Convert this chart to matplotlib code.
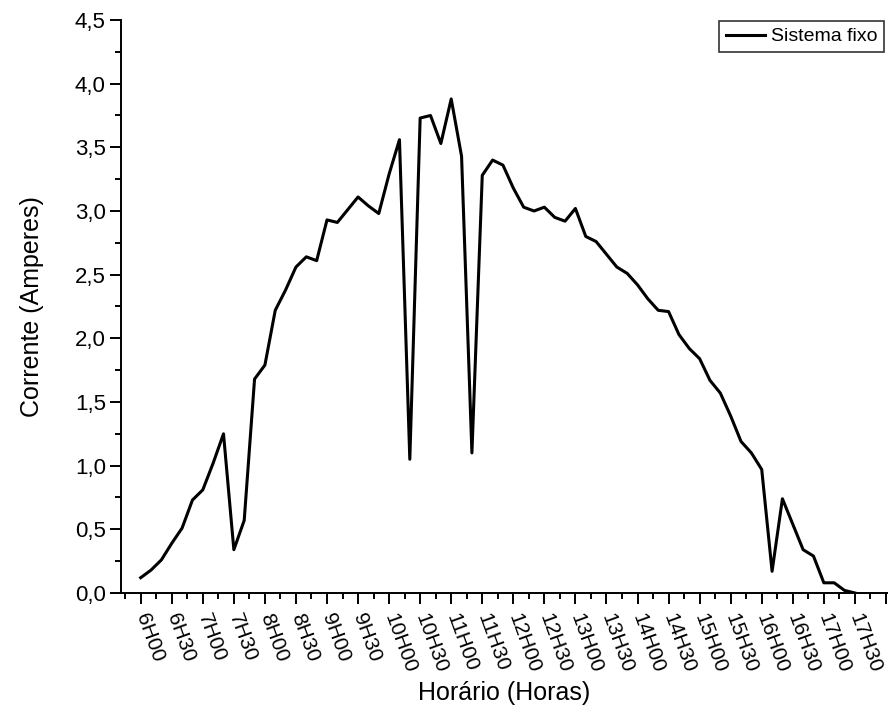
import numpy as np
import matplotlib
matplotlib.use("Agg")
import matplotlib.pyplot as plt
from matplotlib.ticker import MultipleLocator, FixedLocator

plt.rcParams['font.family'] = ['Liberation Sans', 'DejaVu Sans']

# leituras a cada 10 minutos, a partir das 6H00 (minutos)
minutos = np.arange(0, 700, 10)

# corrente medida no sistema fixo (A)
corrente = [0.12, 0.18, 0.26, 0.39, 0.51, 0.73, 0.81, 1.02, 1.25, 0.34,
            0.57, 1.68, 1.79, 2.22, 2.38, 2.56, 2.64, 2.61, 2.93, 2.91,
            3.01, 3.11, 3.04, 2.98, 3.29, 3.56, 1.05, 3.73, 3.75, 3.53,
            3.88, 3.43, 1.10, 3.28, 3.40, 3.36, 3.18, 3.03, 3.00, 3.03,
            2.95, 2.92, 3.02, 2.80, 2.76, 2.66, 2.56, 2.51, 2.42, 2.31,
            2.22, 2.21, 2.03, 1.92, 1.84, 1.67, 1.57, 1.39, 1.19, 1.10,
            0.97, 0.17, 0.74, 0.54, 0.34, 0.29, 0.08, 0.08, 0.02, 0.00]

rotulos_x = ['6H00', '6H30', '7H00', '7H30', '8H00', '8H30', '9H00', '9H30',
             '10H00', '10H30', '11H00', '11H30', '12H00', '12H30', '13H00',
             '13H30', '14H00', '14H30', '15H00', '15H30', '16H00', '16H30',
             '17H00', '17H30', '']

fig = plt.figure(figsize=(8.88, 7.22), dpi=100)
ax = fig.add_axes([0.1363, 0.1787, 0.8637, 0.7936])

ax.plot(minutos, corrente, color='black', lw=2.2, label='Sistema fixo')

ax.set_xlim(-19, 722)
ax.set_ylim(0, 4.5)

# eixo x: marcas principais a cada 30 min, secundarias a cada 15 min
ax.xaxis.set_major_locator(FixedLocator(np.arange(0, 30 * len(rotulos_x), 30)))
ax.xaxis.set_minor_locator(FixedLocator(np.arange(-15, 730, 30)))
ax.set_xticklabels(rotulos_x, rotation=-70, ha='left', va='center',
                   rotation_mode='anchor', fontsize=15)

ax.yaxis.set_minor_locator(MultipleLocator(0.25))
ax.set_yticks(np.arange(0, 4.51, 0.5))
ax.set_yticklabels([f'{v:.1f}'.replace('.', ',') for v in np.arange(0, 4.51, 0.5)],
                   fontsize=16)

ax.tick_params(which='major', direction='out', length=8, width=1.4, pad=3)
ax.tick_params(which='minor', direction='out', length=4, width=1.4)
ax.tick_params(axis='x', which='major', pad=7)

for lado in ['top', 'right']:
    ax.spines[lado].set_visible(False)
for lado in ['left', 'bottom']:
    ax.spines[lado].set_linewidth(1.4)

ax.set_xlabel('Horário (Horas)', fontsize=18, labelpad=4)
ax.set_ylabel('Corrente (Amperes)', fontsize=18, labelpad=22)

leg = ax.legend(loc='upper right', bbox_to_anchor=(1.0, 1.005), fontsize=14,
                frameon=True, fancybox=False, edgecolor='black',
                handlelength=2.0, borderpad=0.35, handletextpad=0.3,
                borderaxespad=0.2)
leg.get_frame().set_linewidth(1.2)

fig.savefig('out.png', dpi=100)
